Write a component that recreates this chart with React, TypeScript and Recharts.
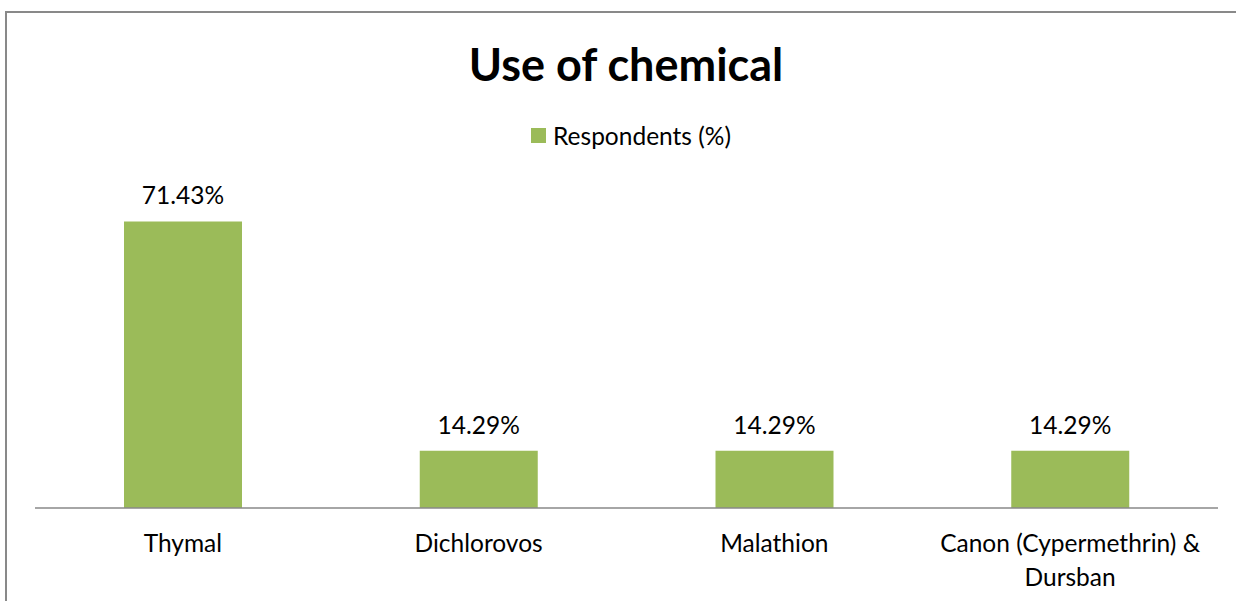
import React from "react";
import { Bar, BarChart, LabelList, XAxis, YAxis } from "recharts";

const categories = ["Thymal", "Dichlorovos", "Malathion", "Canon (Cypermethrin) & Dursban"];
const respondents = [71.43, 14.29, 14.29, 14.29];
const seriesName = "Respondents (%)";
const title = "Use of chemical";

const data = categories.map((name, i) => ({ name, value: respondents[i] }));

const FONT = "Lato, 'Open Sans', sans-serif";
const GREEN = "#9bbb59";
const SIZE = 24.5;

// long labels wrap before their last word, like the original
function wrapLabel(s: string): string[] {
  if (s.length <= 20) return [s];
  const i = s.lastIndexOf(" ");
  return [s.slice(0, i), s.slice(i + 1)];
}

function CategoryTick(props: any) {
  const { x, y, payload } = props;
  const lines = wrapLabel(String(payload.value));
  return (
    <text
      x={x}
      y={y + 36}
      textAnchor="middle"
      style={{ fontFamily: FONT, fontSize: SIZE, fill: "#000" }}
    >
      {lines.map((l, i) => (
        <tspan key={i} x={x} dy={i === 0 ? 0 : 34}>
          {l}
        </tspan>
      ))}
    </text>
  );
}

export default function App() {
  return (
    <div style={{ position: "absolute", left: 0, top: 0, width: 1236, height: 601, overflow: "hidden", background: "#fff" }}>
      <div
        style={{
          position: "absolute",
          left: 5,
          top: 11,
          width: 1300,
          height: 640,
          border: "2px solid #898989",
          boxSizing: "border-box",
        }}
      />
      <div
        style={{
          position: "absolute",
          left: 0,
          top: 39,
          width: 1252,
          textAlign: "center",
          lineHeight: "50px",
          fontFamily: FONT,
          fontWeight: 700,
          fontSize: 45,
          color: "#000",
        }}
      >
        {title}
      </div>
      <div
        style={{
          position: "absolute",
          left: 0,
          top: 120,
          width: 1262,
          height: 30,
          display: "flex",
          justifyContent: "center",
          alignItems: "center",
          fontFamily: FONT,
          fontSize: SIZE,
          color: "#000",
        }}
      >
        <span style={{ width: 15, height: 15, background: GREEN, display: "inline-block", marginRight: 7 }} />
        {seriesName}
      </div>
      <div style={{ position: "absolute", left: 0, top: 0 }}>
        <BarChart width={1236} height={601} data={data} margin={{ top: 187, right: 18, bottom: 63, left: 35 }}>
          <XAxis
            dataKey="name"
            axisLine={{ stroke: "#898989", strokeWidth: 1.5 }}
            tickLine={false}
            tick={<CategoryTick />}
            interval={0}
          />
          <YAxis hide domain={[0, 80]} />
          <Bar dataKey="value" name={seriesName} fill={GREEN} barSize={118} isAnimationActive={false}>
            <LabelList
              dataKey="value"
              position="top"
              offset={17}
              formatter={(v: any) => `${Number(v).toFixed(2)}%`}
              style={{ fontFamily: FONT, fontSize: SIZE, fill: "#000" }}
            />
          </Bar>
        </BarChart>
      </div>
    </div>
  );
}
